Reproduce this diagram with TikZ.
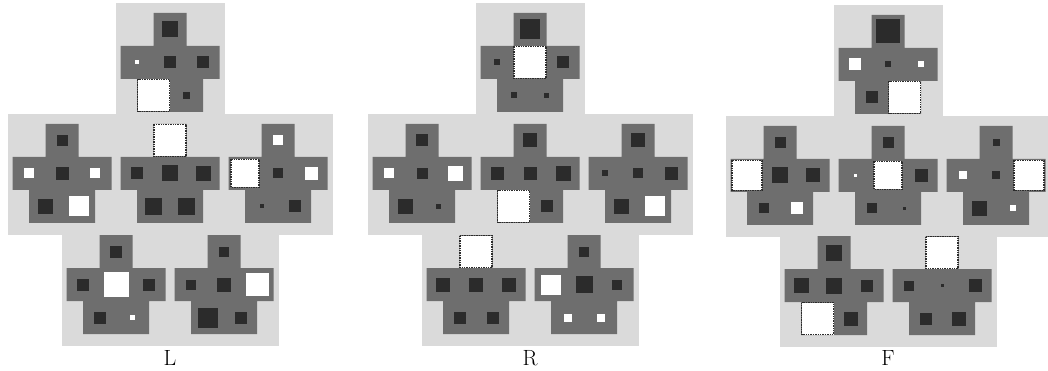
\documentclass[tikz,border=0pt]{standalone}
\usetikzlibrary{positioning}
\definecolor{paper}{HTML}{DADADA}
\definecolor{halftone}{HTML}{6E6E6E}
\definecolor{ink}{HTML}{2B2B2B}

\begin{document}
\begin{tikzpicture}[
  x=1pt, y=-1pt,
  mkd/.style={fill=ink},
  mkw/.style={fill=white},
  mkW/.style={fill=white, draw=ink, densely dotted, line width=1.4pt},
  tag/.style={font=\fontsize{22}{26}\selectfont, inner sep=0pt},
  pics/panel/.style={code={
    \fill[paper] (-54.5,-10) rectangle (54.5,111);
    \fill[halftone] (-16.5,0) -- (16.5,0) -- (16.5,33) -- (49.5,33) -- (49.5,66)
      -- (33,66) -- (33,99) -- (-33,99) -- (-33,66) -- (-49.5,66) -- (-49.5,33)
      -- (-16.5,33) -- cycle;
    \foreach \k/\n [count=\i] in {#1} {
      \pgfmathsetmacro\px{{0,-33,0,33,-16.5,16.5}[\i-1]}
      \pgfmathsetmacro\py{{16.5,49.5,49.5,49.5,82.5,82.5}[\i-1]}
      \path[\k] (\px-\n/2,\py-\n/2) rectangle (\px+\n/2,\py+\n/2);
    }
  }}
]
\useasboundingbox (0,0) rectangle (1048,371);

% L
\pic (L1) at (170,13)  {panel={mkd/16, mkw/4, mkd/12, mkd/12, mkW/32, mkd/7}};
\pic (L2) at (62,124)  {panel={mkd/11, mkw/10, mkd/13, mkw/10, mkd/15, mkw/20}};
\pic (L3) at (170,124) {panel={mkW/32, mkd/12, mkd/16, mkd/15, mkd/17, mkd/17}};
\pic (L4) at (278,124) {panel={mkw/10, mkW/28, mkd/10, mkw/13, mkd/4, mkd/12}};
\pic (L5) at (116,235) {panel={mkd/12, mkd/12, mkw/25, mkd/12, mkd/12, mkw/5}};
\pic (L6) at (224,235) {panel={mkd/10, mkd/10, mkd/14, mkw/23, mkd/20, mkd/12}};
\node[tag] (labL) at (170,358) {L};

% R
\pic (R1) at (530,13)  {panel={mkd/20, mkd/6, mkW/32, mkd/12, mkd/6, mkd/5}};
\pic (R2) at (422,124) {panel={mkd/12, mkw/10, mkd/11, mkw/15, mkd/15, mkd/5}};
\pic (R3) at (530,124) {panel={mkd/14, mkd/13, mkd/13, mkd/15, mkW/32, mkd/12}};
\pic (R4) at (638,124) {panel={mkd/14, mkd/6, mkd/10, mkd/13, mkd/15, mkw/20}};
\pic (R5) at (476,235) {panel={mkW/32, mkd/14, mkd/14, mkd/14, mkd/12, mkd/12}};
\pic (R6) at (584,235) {panel={mkd/10, mkw/20, mkd/17, mkd/10, mkw/8, mkw/8}};
\node[tag] (labR) at (530,358) {R};

% F
\pic (F1) at (888,15)  {panel={mkd/24, mkw/12, mkd/6, mkw/6, mkd/12, mkW/32}};
\pic (F2) at (780,126) {panel={mkd/11, mkW/30, mkd/16, mkd/14, mkd/10, mkw/12}};
\pic (F3) at (888,126) {panel={mkd/11, mkw/3, mkW/28, mkd/13, mkd/10, mkd/3}};
\pic (F4) at (996,126) {panel={mkd/7, mkw/8, mkd/8, mkW/30, mkd/15, mkw/6}};
\pic (F5) at (834,236) {panel={mkd/16, mkd/15, mkd/16, mkd/12, mkW/32, mkd/14}};
\pic (F6) at (942,236) {panel={mkW/32, mkd/10, mkd/3, mkd/13, mkd/12, mkd/14}};
\node[tag] (labF) at (888,358) {F};
\end{tikzpicture}
\end{document}
